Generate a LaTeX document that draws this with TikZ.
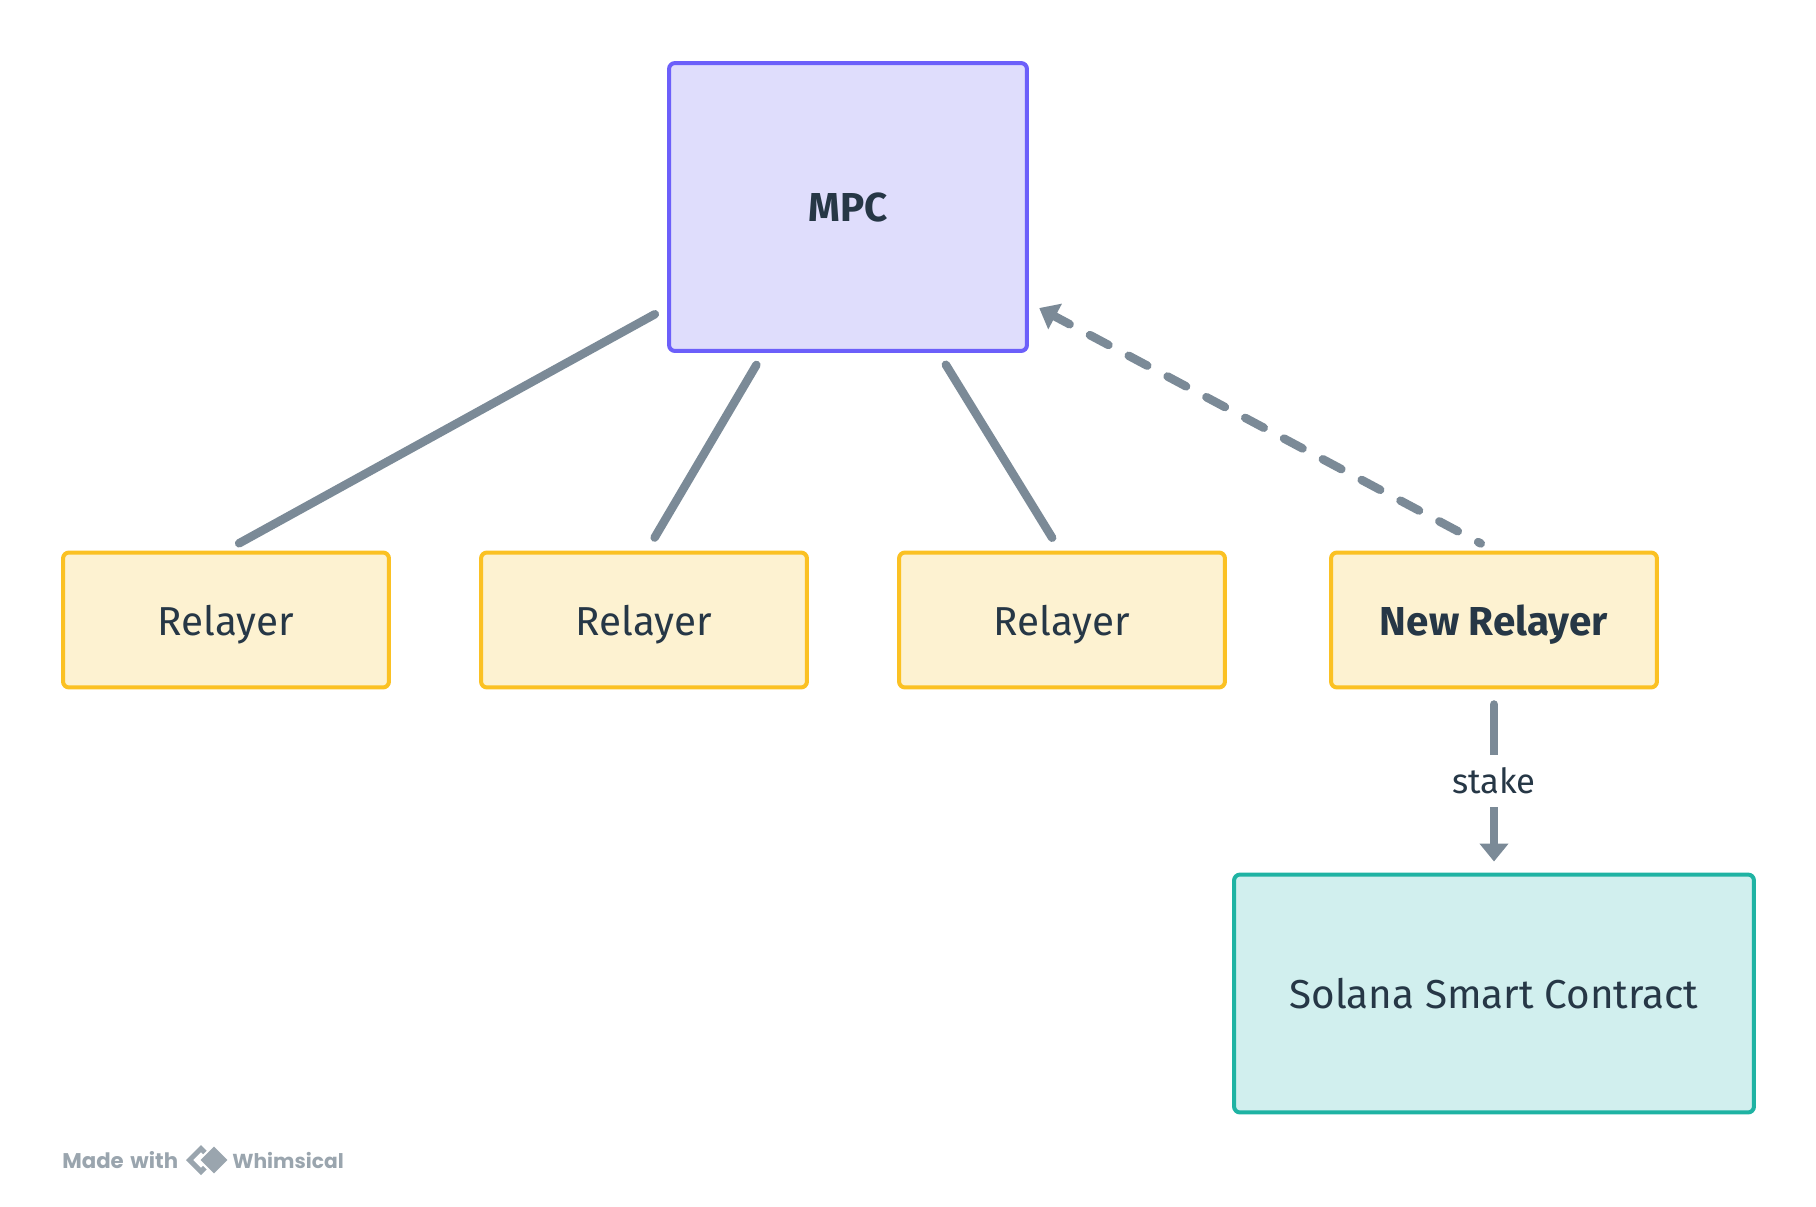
\documentclass[tikz,border=0pt]{standalone}
\usepackage{fontspec}
\setmainfont{Fira Sans}
\newfontfamily\markfont{Poppins}
\usepackage{xcolor}
\usetikzlibrary{arrows.meta,shapes.geometric}
\definecolor{inkc}{HTML}{263746}
\definecolor{linkc}{HTML}{7B8A97}
\definecolor{markc}{HTML}{9AA5AE}
\definecolor{mpcline}{HTML}{6C5FFA}
\definecolor{mpcfill}{HTML}{DFDDFC}
\definecolor{relline}{HTML}{FBC123}
\definecolor{relfill}{HTML}{FDF2D1}
\definecolor{solline}{HTML}{1FB3A3}
\definecolor{solfill}{HTML}{D1EFEE}
\tikzset{box/.style={draw,rounded corners=0.12cm,line width=0.08cm,text=inkc,text depth=0pt,font=\fontsize{23}{28}\selectfont},
  mpcbox/.style={box,draw=mpcline,fill=mpcfill,minimum width=7.16cm,minimum height=5.76cm},
  relbox/.style={box,draw=relline,fill=relfill,minimum width=6.52cm,minimum height=2.7cm},
  solbox/.style={box,draw=solline,fill=solfill,minimum width=10.4cm,minimum height=4.76cm},
  link/.style={draw=linkc,line width=0.17cm,line cap=round,shorten <=0.3cm,shorten >=0.3cm},
  tip/.style={-{Triangle[length=0.36cm,width=0.56cm]}},
  wm/.style={text=markc,font=\markfont\bfseries\fontsize{11.5}{14}\selectfont,inner sep=0pt}}
\begin{document}
\begin{tikzpicture}[x=0.02cm,y=-0.02cm]
    \useasboundingbox (0,0) rectangle (1816,1207);

    \node[mpcbox] (mpc) at (848,207) {\bfseries MPC};
    \node[relbox] (rel1) at (226,620) {Relayer};
    \node[relbox] (rel2) at (644,620) {Relayer};
    \node[relbox] (rel3) at (1062,620) {Relayer};
    \node[relbox] (new) at (1494,620) {\bfseries New Relayer};
    \node[solbox] (sol) at (1494,993.5) {Solana Smart Contract};

    \coordinate (mpcl) at (668,307);
    \coordinate (mpcb1) at (764,352);
    \coordinate (mpcb2) at (938,352);
    \coordinate (mpcr) at (1026,301);

    \draw [link] (rel1.north) to [] (mpcl);
    \draw [link] ([xshift=0.06cm]rel2.north) to [] (mpcb1);
    \draw [link] ([xshift=-0.04cm]rel3.north) to [] (mpcb2);
    \draw [link,tip,dash pattern=on 0.42cm off 0.46cm,dash phase=0.36cm] (new.north) to [] (mpcr);
    \draw [link,tip,shorten >=0.22cm] (new.south) to []node[fill=white,text=inkc,minimum height=1.04cm,inner sep=1pt,font=\fontsize{19.7}{24}\selectfont]{stake} (sol.north);

    \node[wm,anchor=west,font=\markfont\bfseries\fontsize{12.1}{14}\selectfont] (made) at (62,1160) {Made\hspace{0.1em} with};
    \node[diamond,draw=markc,line width=0.1cm,minimum size=0.5cm,inner sep=0pt] (logoa) at (201,1160) {};
    \node[diamond,fill=markc,draw=white,line width=0.04cm,minimum size=0.62cm,inner sep=0pt] (logob) at (214,1160) {};
    \node[wm,anchor=west] (whim) at (232,1160) {Whimsical};
\end{tikzpicture}
\end{document}
